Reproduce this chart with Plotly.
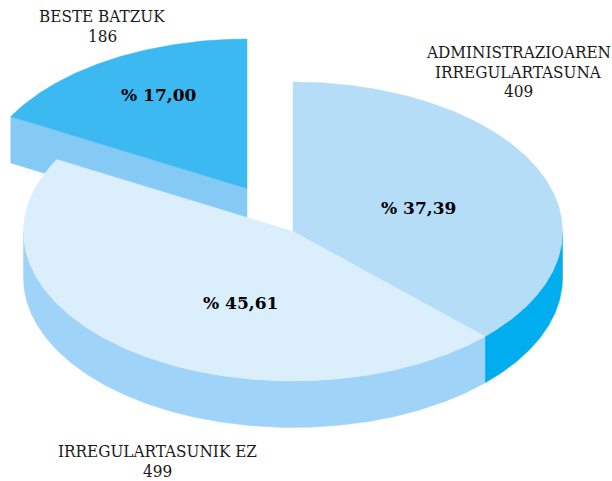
import math
import plotly.graph_objects as go

label_lines = [["ADMINISTRAZIOAREN", "IRREGULARTASUNA"], ["IRREGULARTASUNIK EZ"], ["BESTE BATZUK"]]
counts = [409, 499, 186]
percents = ["% 37,39", "% 45,61", "% 17,00"]
top_colors = ["#B6DDF7", "#DBEEFC", "#3DB9F2"]
side_colors = ["#00ADEE", "#9FD3F7", "#85CAF5"]

W, H = 612, 481
CX, CY, RX, RY, DEPTH = 293, 231.5, 269.5, 149.5, 46.5
EXPLODE_X, EXPLODE_Y = -46, -43
LABEL_X = [518, 157, 102]
LABEL_FIRST_Y = [52, 451, 16]
LINE_STEP = 19.5
PCT_POS = [(418, 208), (240, 303), (158, 95)]

total = sum(counts)
fractions = [c / total for c in counts]
starts = [sum(fractions[:i]) * 360 for i in range(3)]
ends = [sum(fractions[:i + 1]) * 360 for i in range(3)]


def pt(t, ox=0, oy=0):
    r = math.radians(t)
    return CX + ox + RX * math.sin(r), CY + oy - RY * math.cos(r)


def arc(a, b, ox=0, oy=0):
    n = max(2, int(abs(b - a) * 2))
    return [pt(a + (b - a) * i / n, ox, oy) for i in range(n + 1)]


def poly(points, color):
    return go.Scatter(
        x=[p[0] for p in points] + [points[0][0]],
        y=[p[1] for p in points] + [points[0][1]],
        mode="lines", fill="toself", fillcolor=color,
        line=dict(color=color, width=0.5), hoverinfo="skip", showlegend=False,
    )


fig = go.Figure()

# exploded slice (drawn first, sits behind the main body)
ox, oy = EXPLODE_X, EXPLODE_Y
apex = (CX + ox, CY + oy)
edge = pt(starts[2], ox, oy)
fig.add_trace(poly([apex, edge, (edge[0], edge[1] + DEPTH), (apex[0], apex[1] + DEPTH)], side_colors[2]))
fig.add_trace(poly([apex] + arc(starts[2], ends[2], ox, oy), top_colors[2]))

# side walls of the main body
fig.add_trace(poly(arc(90, ends[0]) + [(x, y + DEPTH) for x, y in arc(ends[0], 90)], side_colors[0]))
fig.add_trace(poly(arc(ends[0], 270) + [(x, y + DEPTH) for x, y in arc(270, ends[0])], side_colors[1]))

# top faces
for i in (0, 1):
    fig.add_trace(poly([(CX, CY)] + arc(starts[i], ends[i]), top_colors[i]))

for i in range(3):
    for j, line in enumerate(label_lines[i] + [str(counts[i])]):
        fig.add_annotation(
            x=LABEL_X[i], y=LABEL_FIRST_Y[i] + j * LINE_STEP, xref="x", yref="y", showarrow=False,
            text=line, align="center",
            font=dict(family="DejaVu Serif Condensed, DejaVu Serif", size=17, color="#1a1a1a"),
        )
    fig.add_annotation(
        x=PCT_POS[i][0], y=PCT_POS[i][1], xref="x", yref="y", showarrow=False,
        text=f"<b>{percents[i]}</b>",
        font=dict(family="DejaVu Serif", size=17, color="#000000"),
    )

fig.update_layout(
    width=W, height=H, margin=dict(l=0, r=0, t=0, b=0),
    paper_bgcolor="white", plot_bgcolor="white", showlegend=False,
    xaxis=dict(range=[0, W], visible=False, fixedrange=True),
    yaxis=dict(range=[H, 0], visible=False, fixedrange=True),
)
fig.write_html(
    "out.html",
    config={"displayModeBar": False},
    post_script="document.body.style.margin='0';document.body.style.overflow='hidden';",
)
